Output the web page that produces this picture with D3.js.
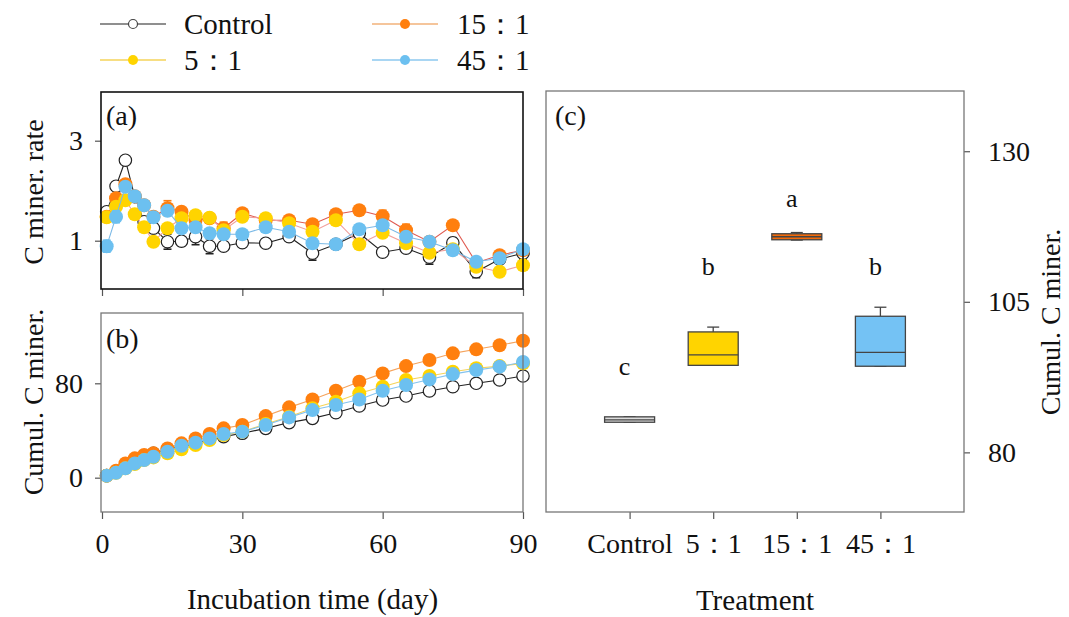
<!DOCTYPE html>
<html><head><meta charset="utf-8">
<script src="https://cdn.jsdelivr.net/npm/d3@7/dist/d3.min.js"></script>
<style>
body{margin:0;background:#fff;}
svg text{font-family:"Liberation Serif","Times New Roman",serif;fill:#111;}
</style></head>
<body><svg id="chart" width="1069" height="617"></svg>
<script>
// ---------------- data ----------------
const days = [1,3,5,7,9,11,14,17,20,23,26,30,35,40,45,50,55,60,65,70,75,80,85,90];
const seriesNames = ["Control","5：1","15：1","45：1"];

// (a) C mineralization rate
const rateControl = [1.58,2.09,2.61,1.88,1.38,1.25,0.98,0.99,1.08,0.89,0.89,0.96,0.95,1.08,0.75,0.93,1.15,0.77,0.85,0.67,0.96,0.38,0.63,0.75];
const rate5 = [1.47,1.68,1.81,1.53,1.27,0.98,1.25,1.45,1.51,1.46,1.21,1.48,1.45,1.35,1.18,1.41,0.93,1.16,0.95,0.76,0.83,0.48,0.38,0.51];
const rate15 = [1.48,1.85,2.13,1.89,1.71,1.48,1.65,1.58,1.41,1.45,1.25,1.55,1.41,1.41,1.33,1.53,1.61,1.49,1.21,0.98,1.31,0.56,0.71,0.81];
const rate45 = [0.89,1.48,2.08,1.89,1.71,1.47,1.60,1.25,1.27,1.15,1.13,1.13,1.27,1.18,0.95,0.93,1.23,1.31,1.08,0.98,0.81,0.58,0.65,0.83];
// standard errors of the rates
const errControl = [0.05,0.08,0.07,0.05,0.06,0.08,0.15,0.09,0.16,0.15,0.08,0.05,0.05,0.06,0.14,0.06,0.08,0.05,0.05,0.14,0.10,0.12,0.08,0.12];
const err5 = [0.05,0.05,0.06,0.05,0.05,0.05,0.05,0.05,0.05,0.05,0.05,0.05,0.05,0.05,0.05,0.05,0.05,0.05,0.05,0.05,0.05,0.05,0.05,0.05];
const err15 = [0.06,0.08,0.08,0.06,0.06,0.08,0.15,0.08,0.14,0.06,0.12,0.06,0.06,0.06,0.06,0.06,0.06,0.12,0.12,0.06,0.06,0.06,0.08,0.06];
const err45 = [0.12,0.12,0.06,0.06,0.06,0.06,0.08,0.10,0.08,0.06,0.06,0.06,0.06,0.06,0.06,0.08,0.06,0.06,0.06,0.06,0.10,0.06,0.06,0.06];

// (b) cumulative C mineralization
const cumControl = [1.7,5.1,10.7,14.9,18.3,20.6,24.0,26.3,29.1,32.8,34.8,37.6,41.8,46.7,50.3,55.1,60.8,65.8,69.2,73.5,77.1,80.0,82.8,86.2];
const cum5 = [1.7,4.2,7.9,11.6,14.9,17.2,20.6,24.0,27.7,31.9,36.2,39.0,45.5,51.7,58.8,64.4,71.5,77.1,82.8,86.2,89.8,92.7,94.6,96.9];
const cum15 = [1.7,5.9,12.1,16.4,19.2,20.6,24.8,29.1,33.3,37.0,41.8,44.6,52.2,59.6,66.3,73.7,81.3,88.4,94.6,99.7,105.4,108.8,112.2,116.1];
const cum45 = [1.7,4.2,7.9,12.1,14.9,17.7,22.0,27.1,29.7,33.3,37.0,39.0,44.6,51.1,57.3,61.6,66.3,73.7,78.5,83.3,87.8,91.2,94.1,98.0];

// (c) box plot of cumulative C mineralization at day 90
const boxMin = [85.0, 94.45, 115.25, 94.3];
const boxQ1 = [85.0, 94.45, 115.3, 94.3];
const boxMedian = [85.4, 96.2, 115.8, 96.6];
const boxQ3 = [85.9, 100.0, 116.3, 102.6];
const boxMax = [85.9, 100.8, 116.5, 104.1];
const sigLetters = ["c","b","a","b"];
const sigLetterY = [92.8, 109.4, 120.7, 109.4];

const ticksA = [1,3];
const ticksB = [0,80];
const ticksC = [80,105,130];
const ticksDay = [0,30,60,90];

// ---------------- styles ----------------
const markerFill = ["#ffffff","#ffd400","#ff7f0e","#6cc0f0"];
const markerStroke = ["#222222","#ffd400","#ff7f0e","#6cc0f0"];
const lineA = ["#222222","#f2a09c","#e05a50","#7bb9e6"];
const lineB = ["#222222","#f5d35a","#f5a35c","#84c3ee"];
const lineLegend = ["#6a6a6a","#f5d35a","#f2b27a","#8cc8ef"];
const boxFill = ["#dcdcdc","#ffd400","#f26a0a","#74c2f4"];
const FS = 28;

const svg = d3.select("#chart");
const rates = [rateControl, rate5, rate15, rate45];
const errs = [errControl, err5, err15, err45];
const cums = [cumControl, cum5, cum15, cum45];
const drawOrder = [0,2,1,3];
const fmt = d3.format("d");

// ---------------- scales ----------------
const x = d3.scaleLinear().domain([0,90]).range([102,523]);
const yA = d3.scaleLinear().domain([0.034,3.974]).range([289,92]);
const yB = d3.scaleLinear().domain([-29.1,139.6]).range([512,313]);
const xC = d3.scalePoint().domain(seriesNames).range([546,964]).padding(1);
const yC = d3.scaleLinear().domain([70.1,140]).range([512,91]);

function styleAxis(g, fontSize, showLabels){
  g.select(".domain").remove();
  g.selectAll(".tick line").attr("stroke","#555").attr("stroke-width",1.2);
  g.selectAll(".tick text").attr("font-size",fontSize).attr("fill","#111")
   .style("font-family",'"Liberation Serif","Times New Roman",serif');
  if(!showLabels) g.selectAll(".tick text").remove();
}

// ---------- panel (a) ----------
const gA = svg.append("g");
gA.append("g").attr("transform",`translate(${x.range()[0]-1},0)`)
  .call(d3.axisLeft(yA).tickValues(ticksA).tickFormat(fmt).tickSize(6).tickPadding(12)).call(g=>styleAxis(g,FS,true));
gA.append("g").attr("transform",`translate(0,${yA.range()[0]})`)
  .call(d3.axisBottom(x).tickValues(ticksDay).tickSize(7)).call(g=>styleAxis(g,FS,false));

drawOrder.forEach(i=>{
  const pts = days.map((d,k)=>({d, v:rates[i][k], e:errs[i][k]}));
  gA.append("path").datum(pts).attr("fill","none").attr("stroke",lineA[i]).attr("stroke-width",1.1)
    .attr("d",d3.line().x(p=>x(p.d)).y(p=>yA(p.v)));
  const eb = gA.append("g").attr("stroke",markerStroke[i]).attr("stroke-width",1.6);
  pts.forEach(p=>{
    eb.append("line").attr("x1",x(p.d)).attr("x2",x(p.d)).attr("y1",yA(p.v-p.e)).attr("y2",yA(p.v+p.e));
    [p.v-p.e,p.v+p.e].forEach(v=>eb.append("line").attr("x1",x(p.d)-4).attr("x2",x(p.d)+4).attr("y1",yA(v)).attr("y2",yA(v)));
  });
  gA.append("g").selectAll("circle").data(pts).join("circle")
    .attr("cx",p=>x(p.d)).attr("cy",p=>yA(p.v)).attr("r",i===0?6.2:7)
    .attr("fill",markerFill[i]).attr("stroke",markerStroke[i]).attr("stroke-width",i===0?1.2:0);
});
gA.append("rect").attr("x",101).attr("y",92).attr("width",422).attr("height",197)
  .attr("fill","none").attr("stroke","#111").attr("stroke-width",1.6);
gA.append("text").attr("x",106).attr("y",125).attr("font-size",28).text("(a)");
gA.append("text").attr("transform","translate(43,192) rotate(-90)").attr("text-anchor","middle")
  .attr("font-size",FS).text("C miner. rate");

// ---------- panel (b) ----------
const gB = svg.append("g");
gB.append("g").attr("transform",`translate(${x.range()[0]-1},0)`)
  .call(d3.axisLeft(yB).tickValues(ticksB).tickFormat(fmt).tickSize(6).tickPadding(12)).call(g=>styleAxis(g,FS,true));
gB.append("g").attr("transform",`translate(0,${yB.range()[0]})`)
  .call(d3.axisBottom(x).tickValues(ticksDay).tickSize(7).tickPadding(14)).call(g=>styleAxis(g,FS,true));

drawOrder.forEach(i=>{
  const pts = days.map((d,k)=>({d, v:cums[i][k]}));
  gB.append("path").datum(pts).attr("fill","none").attr("stroke",lineB[i]).attr("stroke-width",1.1)
    .attr("d",d3.line().x(p=>x(p.d)).y(p=>yB(p.v)));
  gB.append("g").selectAll("circle").data(pts).join("circle")
    .attr("cx",p=>x(p.d)).attr("cy",p=>yB(p.v)).attr("r",i===0?6.2:7)
    .attr("fill",markerFill[i]).attr("stroke",markerStroke[i]).attr("stroke-width",i===0?1.2:0);
});
gB.append("rect").attr("x",101).attr("y",313).attr("width",422).attr("height",199)
  .attr("fill","none").attr("stroke","#777").attr("stroke-width",1.3);
gB.append("text").attr("x",106).attr("y",348).attr("font-size",28).text("(b)");
gB.append("text").attr("transform","translate(43,402) rotate(-90)").attr("text-anchor","middle")
  .attr("font-size",FS).text("Cumul. C miner.");
svg.append("text").attr("x",(x.range()[0]+x.range()[1])/2).attr("y",609).attr("text-anchor","middle")
  .attr("font-size",29).text("Incubation time (day)");

// ---------- panel (c) ----------
const gC = svg.append("g");
gC.append("g").attr("transform",`translate(964,0)`)
  .call(d3.axisRight(yC).tickValues(ticksC).tickFormat(fmt).tickSize(6).tickPadding(18)).call(g=>styleAxis(g,FS,true));
gC.append("g").attr("transform",`translate(0,512)`)
  .call(d3.axisBottom(xC).tickSize(7).tickPadding(14)).call(g=>styleAxis(g,FS,true));
gC.append("rect").attr("x",546).attr("y",91).attr("width",418).attr("height",421)
  .attr("fill","none").attr("stroke","#777").attr("stroke-width",1.3);
const bw = 50;
seriesNames.forEach((s,i)=>{
  const cx = xC(s);
  const g = gC.append("g").attr("stroke","#444").attr("stroke-width",1.3);
  g.append("line").attr("x1",cx).attr("x2",cx).attr("y1",yC(boxMax[i])).attr("y2",yC(boxQ3[i]));
  g.append("line").attr("x1",cx-6).attr("x2",cx+6).attr("y1",yC(boxMax[i])).attr("y2",yC(boxMax[i]));
  g.append("line").attr("x1",cx).attr("x2",cx).attr("y1",yC(boxQ1[i])).attr("y2",yC(boxMin[i]));
  g.append("line").attr("x1",cx-6).attr("x2",cx+6).attr("y1",yC(boxMin[i])).attr("y2",yC(boxMin[i]));
  g.append("rect").attr("x",cx-bw/2).attr("y",yC(boxQ3[i])).attr("width",bw)
    .attr("height",Math.max(1,yC(boxQ1[i])-yC(boxQ3[i]))).attr("fill",boxFill[i]);
  g.append("line").attr("x1",cx-bw/2).attr("x2",cx+bw/2).attr("y1",yC(boxMedian[i])).attr("y2",yC(boxMedian[i]));
  gC.append("text").attr("x",cx-5).attr("y",yC(sigLetterY[i])).attr("text-anchor","middle")
    .attr("font-size",26).text(sigLetters[i]);
});
gC.append("text").attr("x",555).attr("y",125).attr("font-size",28).text("(c)");
gC.append("text").attr("transform","translate(1060,322) rotate(-90)").attr("text-anchor","middle")
  .attr("font-size",FS).text("Cumul. C miner.");
svg.append("text").attr("x",755).attr("y",610).attr("text-anchor","middle").attr("font-size",29).text("Treatment");

// ---------- legend ----------
const legendPos = [[100,24,184,34],[100,60,184,70],[372,24,457,34],[372,60,457,70]];
const legendIdx = [0,1,2,3];
legendIdx.forEach((i,k)=>{
  const [lx,ly,tx,ty] = legendPos[k];
  svg.append("line").attr("x1",lx).attr("x2",lx+66).attr("y1",ly).attr("y2",ly)
    .attr("stroke",lineLegend[i]).attr("stroke-width",1.5);
  svg.append("circle").attr("cx",lx+33).attr("cy",ly).attr("r",i===0?4.5:5)
    .attr("fill",markerFill[i]).attr("stroke",i===0?"#444":markerStroke[i]).attr("stroke-width",i===0?1.2:0);
  svg.append("text").attr("x",tx).attr("y",ty).attr("font-size",29).text(seriesNames[i]);
});
</script></body></html>
